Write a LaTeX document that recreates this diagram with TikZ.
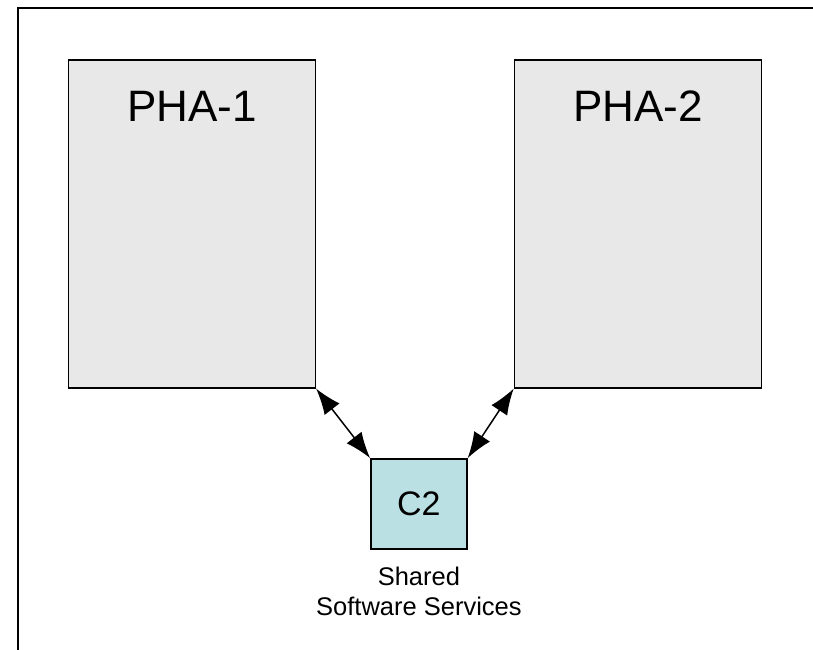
\documentclass[tikz,border=0pt]{standalone}
\usepackage{fontspec}
\setmainfont{Liberation Sans}
\usetikzlibrary{positioning,arrows.meta}
\definecolor{phagray}{RGB}{232,232,232}
\definecolor{cyanbox}{RGB}{187,224,227}
\begin{document}
\begin{tikzpicture}[x=1pt,y=-1pt,
  phabox/.style={draw,line width=1.6pt,fill=phagray,minimum width=247pt,minimum height=328pt,inner sep=0pt},
  svcbox/.style={draw,line width=1.6pt,fill=cyanbox,minimum width=96pt,minimum height=90pt,inner sep=0pt,font=\fontsize{34}{40}\selectfont},
  title/.style={inner sep=0pt,font=\fontsize{44}{52}\selectfont},
  duplex/.style={line width=1.5pt,{Latex[length=26pt,width=19pt]}-{Latex[length=26pt,width=19pt]}}]
  \useasboundingbox (0,0) rectangle (813,649);
  \clip (0,0) rectangle (813,649);
  \fill[white] (0,0) rectangle (813,649);
  \draw[line width=1.5pt] (18,8) rectangle (840,680);

  \node[phabox,anchor=north west] (pha1) at (67.5,59) {};
  \node[phabox,anchor=north west] (pha2) at (513.7,59) {};
  \node[title,below=31.7pt of pha1.north] (pha1title) {PHA-1};
  \node[title,below=31.7pt of pha2.north] (pha2title) {PHA-2};

  \node[svcbox] (c2) at (418.9,503.9) {C2};
  \node[below=17pt of c2,inner sep=0pt,align=center,font=\fontsize{25.5}{30}\selectfont] (c2label) {Shared\\Software Services};

  \draw[duplex] (pha1.south east) -- (c2.north west);
  \draw[duplex] (pha2.south west) -- (c2.north east);
\end{tikzpicture}
\end{document}
